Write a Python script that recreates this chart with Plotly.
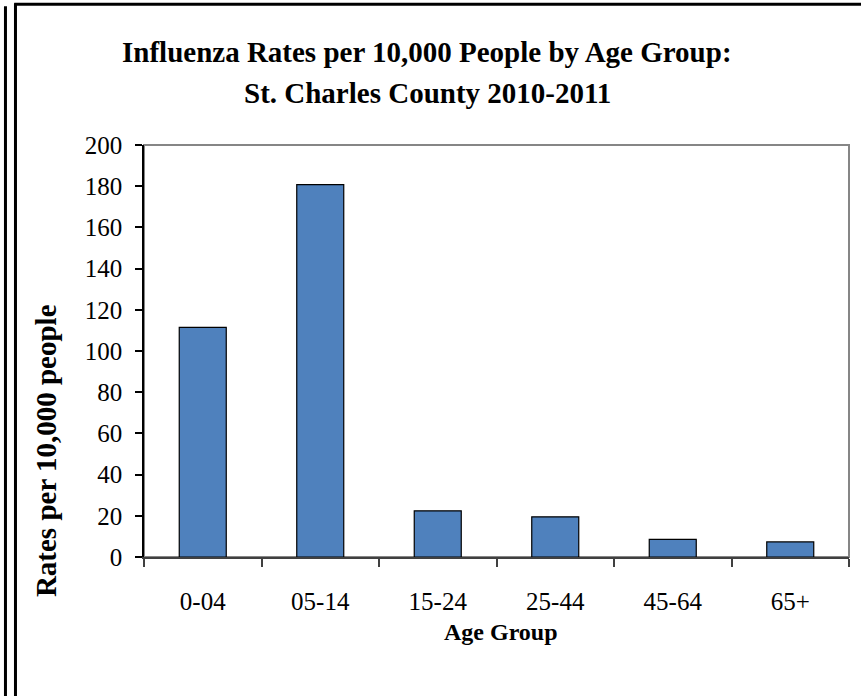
import plotly.graph_objects as go

age_groups = ["0-04", "05-14", "15-24", "25-44", "45-64", "65+"]
rates = [111.5, 180.8, 22.4, 19.5, 8.6, 7.3]

title_line1 = "Influenza Rates per 10,000 People by Age Group:"
title_line2 = "St. Charles County 2010-2011"
y_title = "Rates per 10,000 people"
x_title = "Age Group"

FONT = "Liberation Serif, Times New Roman, serif"

fig = go.Figure()

fig.add_trace(
    go.Bar(
        x=age_groups,
        y=rates,
        marker=dict(color="#4f81bd", line=dict(color="black", width=1.2)),
        hoverinfo="x+y",
    )
)

# gray plot-area frame (top/right), axes lines drawn over it
shapes = [
    dict(
        type="rect", xref="paper", yref="paper", x0=0, y0=0, x1=1, y1=1,
        line=dict(color="#868686", width=2), layer="below",
    ),
    # outer page border
    dict(type="line", xref="paper", yref="paper", x0=-0.1965, x1=-0.1965,
         y0=1.337, y1=-0.34, line=dict(color="black", width=3)),
    dict(type="line", xref="paper", yref="paper", x0=-0.1823, x1=-0.1823,
         y0=1.344, y1=-0.34, line=dict(color="black", width=3)),
    dict(type="line", xref="paper", yref="paper", x0=-0.184, x1=1.03,
         y0=1.3415, y1=1.3415, line=dict(color="black", width=3)),
]

annotations = [
    dict(text="<b>" + title_line1 + "</b>", x=0.402, y=1.226, xref="paper", yref="paper",
         showarrow=False, xanchor="center", yanchor="middle",
         font=dict(family=FONT, size=29, color="black")),
    dict(text="<b>" + title_line2 + "</b>", x=0.402, y=1.126, xref="paper", yref="paper",
         showarrow=False, xanchor="center", yanchor="middle",
         font=dict(family=FONT, size=29, color="black")),
    dict(text="<b>" + y_title + "</b>", x=-0.139, y=0.257, xref="paper", yref="paper",
         showarrow=False, textangle=-90, xanchor="center", yanchor="middle",
         font=dict(family=FONT, size=29, color="black")),
    dict(text="<b>" + x_title + "</b>", x=0.506, y=-0.182, xref="paper", yref="paper",
         showarrow=False, xanchor="center", yanchor="middle",
         font=dict(family=FONT, size=24, color="black")),
]

fig.update_layout(
    width=861,
    height=696,
    margin=dict(l=144, r=12, t=145, b=139),
    paper_bgcolor="white",
    plot_bgcolor="white",
    showlegend=False,
    bargap=0.6,
    shapes=shapes,
    annotations=annotations,
    font=dict(family=FONT, size=25, color="black"),
)

fig.update_xaxes(
    type="category",
    showline=True,
    linecolor="#404040",
    linewidth=2,
    ticks="outside",
    tickson="boundaries",
    ticklen=8,
    tickcolor="#404040",
    tickwidth=1.5,
    ticklabelstandoff=21,
    showgrid=False,
    tickfont=dict(family=FONT, size=25, color="black"),
)

fig.update_yaxes(
    range=[0, 200],
    dtick=20,
    showline=True,
    linecolor="black",
    linewidth=1.5,
    ticks="outside",
    ticklen=7,
    tickcolor="black",
    tickwidth=1.5,
    ticklabelstandoff=8,
    showgrid=False,
    zeroline=False,
    tickfont=dict(family=FONT, size=25, color="black"),
)

fig.write_html(
    "out.html",
    config={"displayModeBar": False},
    post_script="document.body.style.margin='0';",
)
